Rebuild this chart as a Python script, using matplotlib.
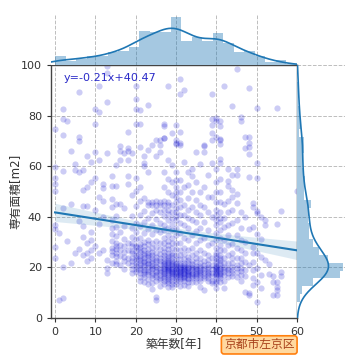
import matplotlib
matplotlib.use("Agg")
import matplotlib.pyplot as plt
import numpy as np

plt.rcParams['font.family'] = ['DejaVu Sans', 'Noto Sans CJK JP']

# floor area [m2] of each listing, one row per building age (0..60 years)
areas_by_age = [
  [74.7, 59.7, 55.3, 53.0, 50.2, 36.8, 35.0, 27.9, 23.6],
  [7.1, 33.5],
  [82.5, 78.6, 72.3, 58.0, 43.5, 20.0, 7.8],
  [77.8, 30.5],
  [66.0, 45.0, 21.9],
  [61.0, 58.5, 25.6],
  [89.2, 71.5, 70.0, 57.7, 38.5, 27.2],
  [58.5, 50.6, 44.2, 24.9, 32.0, 36.5],
  [64.0, 51.8, 44.2, 25.6, 29.5, 22.5],
  [61.7, 53.8, 34.0, 26.9, 31.0, 23.8],
  [82.7, 76.6, 65.6, 55.3, 42.7, 28.5],
  [91.5, 81.4, 62.5, 47.8, 37.0, 25.8],
  [53.0, 51.4, 46.2, 40.0, 26.9],
  [99.5, 96.7, 85.4, 65.3, 22.9, 19.6, 17.6],
  [56.0, 52.0, 43.9, 38.7, 33.2, 30.6, 27.8, 26.3, 24.8, 21.7, 35.4, 47.1],
  [52.0, 36.0, 45.0, 32.4, 29.7, 28.6, 27.3, 25.8, 24.4, 22.7, 21.3, 40.5, 60.5],
  [68.0, 66.0, 62.5, 45.0, 33.8, 28.7, 26.8, 24.6, 20.8],
  [65.3, 43.5, 36.4, 31.3, 28.4, 26.2, 24.3, 22.6, 19.4],
  [73.5, 67.3, 66.0, 62.5, 56.0, 53.0, 29.8, 26.7, 23.7, 21.8],
  [65.3, 48.5, 40.2, 35.4, 32.1, 29.7, 28.3, 26.4, 25.6, 23.8, 22.7, 20.9, 19.2, 17.6],
  [91.7, 86.5, 82.5, 76.7, 55.3, 50.1, 44.3, 37.6, 33.8, 31.2, 28.6, 27.9, 26.3, 24.7,
   24.1, 22.8, 21.6, 20.4, 19.3, 18.1],
  [82.2, 76.7, 67.6, 51.7, 46.2, 40.8, 36.3, 31.6, 29.4, 28.1, 26.7, 25.9, 24.6, 23.7,
   22.9, 21.8, 21.1, 19.8, 19.1, 17.7, 16.3, 14.8],
  [64.0, 61.4, 60.0, 47.6, 42.3, 37.8, 33.4, 30.2, 28.3, 26.8, 25.7, 24.9, 23.6, 22.7,
   22.1, 20.8, 20.3, 18.9, 18.2, 17.3, 16.1, 14.4],
  [84.2, 66.4, 57.8, 45.8, 44.6, 39.7, 35.2, 30.8, 29.1, 27.3, 25.8, 24.7, 24.2, 22.9,
   21.7, 21.2, 20.1, 18.8, 18.3, 17.4, 15.6, 13.3],
  [68.4, 45.9, 44.8, 41.3, 36.7, 33.2, 29.8, 27.7, 26.2, 24.8, 23.7, 22.6, 21.9, 20.7,
   19.9, 19.2, 17.8, 17.1, 15.8, 13.9, 11.5],
  [70.4, 64.0, 46.1, 44.6, 42.8, 39.2, 34.7, 30.6, 28.2, 25.7, 24.3, 22.8, 22.2, 20.6,
   20.1, 18.7, 18.1, 16.8, 16.2, 14.7, 8.4, 7.1],
  [70.4, 68.4, 65.7, 45.9, 44.8, 41.7, 37.6, 33.8, 29.7, 27.2, 25.3, 23.8, 22.4, 21.3,
   19.7, 19.1, 18.2, 16.9, 15.7, 14.9, 12.8],
  [76.7, 76.0, 71.0, 71.0, 57.6, 51.8, 46.1, 44.8, 42.7, 40.3, 36.8, 34.6, 31.7, 29.8,
   27.6, 26.2, 24.7, 23.9, 22.6, 21.8, 21.3, 20.4, 19.8, 19.4, 18.6, 17.8, 17.2, 16.6,
   15.7, 14.6, 13.4],
  [91.7, 62.3, 54.8, 49.6, 45.9, 44.7, 42.6, 41.2, 38.7, 35.6, 32.8, 30.6, 28.7, 27.4,
   25.8, 24.6, 23.7, 22.9, 22.3, 21.6, 20.8, 20.2, 19.7, 19.3, 18.8, 18.4, 17.6, 16.8,
   16.3, 15.6, 14.8, 13.7, 12.3],
  [73.0, 60.3, 53.7, 48.8, 44.6, 41.8, 39.6, 37.2, 34.8, 31.6, 29.7, 27.8, 25.7, 24.8,
   23.6, 22.7, 21.8, 21.2, 20.6, 19.8, 19.2, 18.7, 18.3, 17.7, 17.3, 16.6, 15.8, 14.7,
   13.6, 12.2],
  [76.3, 70.4, 69.0, 68.8, 57.8, 54.7, 51.6, 49.7, 47.8, 45.7, 43.6, 41.8, 40.5, 38.7,
   35.6, 32.7, 29.6, 27.3, 24.8, 23.3, 21.7, 21.2, 20.4, 19.7, 19.3, 18.8, 18.2, 17.6,
   17.1, 16.7, 15.7, 14.8, 13.3],
  [94.5, 88.5, 73.5, 69.0, 68.4, 54.6, 49.8, 46.7, 43.8, 40.7, 37.6, 33.7, 29.8, 26.8,
   24.7, 23.2, 21.7, 20.8, 20.3, 19.6, 19.2, 18.7, 18.3, 17.8, 17.3, 16.8, 16.2, 15.6,
   14.7, 12.8],
  [90.0, 61.7, 51.8, 44.7, 40.6, 36.8, 31.7, 27.8, 25.3, 23.2, 21.8, 21.1, 20.2, 19.8,
   19.2, 18.9, 18.4, 17.7, 17.2, 16.7, 16.3, 15.8, 14.8, 13.2],
  [57.8, 52.7, 47.6, 42.8, 39.7, 35.7, 30.8, 26.7, 24.3, 22.8, 21.7, 20.7, 19.8, 19.6,
   18.7, 18.2, 17.8, 17.3, 16.8, 15.8, 15.3, 14.2, 12.7],
  [58.7, 56.0, 49.7, 43.7, 38.8, 32.7, 27.8, 24.7, 22.7, 21.3, 20.3, 19.6, 18.8, 17.8,
   17.4, 16.7, 15.8, 14.3],
  [65.5, 53.8, 46.7, 41.7, 37.8, 34.2, 29.7, 25.8, 23.7, 22.2, 20.7, 19.9, 19.3, 18.6,
   17.8, 17.2, 16.6, 15.7, 14.2],
  [61.0, 49.7, 44.8, 40.7, 35.7, 30.8, 26.7, 23.8, 21.8, 20.7, 19.8, 18.9, 18.3, 17.7,
   16.8, 15.8, 14.7, 12.4],
  [68.4, 68.0, 65.7, 51.8, 43.7, 37.8, 31.7, 25.8, 22.7, 20.8, 19.7, 18.8, 17.8, 16.7,
   15.8, 11.0],
  [56.7, 47.8, 41.7, 34.8, 28.8, 24.7, 22.8, 21.3, 20.2, 19.3, 18.3, 17.7, 16.8, 15.7, 14.8],
  [88.4, 78.6, 76.3, 73.0, 70.4, 61.4, 47.7, 39.8, 29.7, 23.8, 20.8, 19.3, 17.8, 16.7,
   14.8, 13.7],
  [79.0, 78.0, 71.4, 58.8, 53.7, 49.8, 45.7, 42.8, 40.7, 38.7, 36.8, 33.7, 30.8, 27.7,
   25.8, 24.7, 23.8, 22.7, 21.8, 20.7, 20.2, 19.8, 19.2, 18.8, 18.2, 17.8, 17.3, 16.8,
   15.8, 14.8, 13.8, 11.7],
  [78.0, 76.0, 70.7, 70.4, 68.8, 62.7, 61.1, 54.8, 49.7, 45.8, 41.8, 39.7, 37.8, 34.7,
   31.8, 28.7, 26.8, 24.8, 23.7, 22.8, 21.7, 20.8, 19.8, 19.3, 18.7, 17.8, 17.2, 16.7,
   15.8, 14.3],
  [91.7, 45.0, 39.7, 35.8, 30.7, 26.8, 23.7, 21.8, 20.3, 19.4, 18.3, 16.8, 14.7, 11.9],
  [58.7, 54.0, 52.0, 46.4, 41.7, 36.8, 32.7, 28.8, 24.7, 21.8, 19.8, 18.8, 17.7, 16.3],
  [83.8, 56.5, 50.6, 47.7, 42.8, 37.7, 29.4, 25.8, 23.7, 21.7, 20.3, 18.8, 17.7, 16.4],
  [98.4, 58.7, 56.5, 49.0, 45.3, 38.7, 32.8, 27.8, 23.8, 20.8, 19.6, 18.2, 16.2],
  [79.5, 78.0, 41.8, 35.7, 30.8, 26.7, 23.7, 21.8, 19.8, 18.4, 16.8, 14.8],
  [71.7, 67.0, 40.0, 30.0, 25.8, 22.0, 19.0, 16.5, 10.3],
  [90.8, 71.5, 69.0, 67.6, 65.0, 55.6, 35.0, 21.0, 10.0, 9.1],
  [45.3, 43.7, 36.0, 28.0, 25.8, 22.0, 19.0, 16.0, 13.0],
  [83.0, 61.4, 55.2, 42.4, 41.4, 33.0, 25.8, 19.7, 14.2, 6.3],
  [39.8, 31.4, 24.0, 17.0, 12.0],
  [38.7, 36.8, 22.8],
  [21.5, 17.5],
  [16.6, 14.4, 9.1],
  [83.0, 37.2, 14.2, 12.4, 11.0, 9.0],
  [42.4, 18.2, 16.5],
  [],
  [],
  [],
  [50.0],
]

x_ticks = [0, 10, 20, 30, 40, 50, 60]
y_ticks = [0, 20, 40, 60, 80, 100]
x_label = "築年数[年]"
y_label = "専有面積[m2]"
area_name = "京都市左京区"


def kde(values, grid):
  v = np.asarray(values, dtype=float)
  bw = v.std(ddof=1) * len(v) ** (-1 / 5)
  z = (grid[:, None] - v[None, :]) / bw
  return np.exp(-0.5 * z ** 2).sum(axis=1) / (len(v) * bw * np.sqrt(2 * np.pi))


def main():
  ages = np.repeat(np.arange(len(areas_by_age)), [len(a) for a in areas_by_age]).astype(float)
  areas = np.array([v for row in areas_by_age for v in row])

  slope, intercept = np.polyfit(ages, areas, 1)

  fig = plt.figure(figsize=(3.6, 3.6), dpi=100)
  ax = fig.add_axes([0.1417, 0.1167, 0.6833, 0.7028])
  ax_top = fig.add_axes([0.1417, 0.8194, 0.6833, 0.1417], sharex=ax)
  ax_right = fig.add_axes([0.825, 0.1167, 0.1333, 0.7028], sharey=ax)

  grid_kw = dict(color="#bdbdbd", linestyle="--", linewidth=0.7)

  # main scatter + regression
  ax.scatter(ages, areas, s=20, color="mediumblue", alpha=0.2, linewidths=0, zorder=2)
  xg = np.linspace(ages.min(), ages.max(), 100)
  yg = intercept + slope * xg
  n = len(ages)
  resid = areas - (intercept + slope * ages)
  s = np.sqrt((resid ** 2).sum() / (n - 2))
  se = s * np.sqrt(1 / n + (xg - ages.mean()) ** 2 / ((ages - ages.mean()) ** 2).sum())
  ax.fill_between(xg, yg - 1.96 * se, yg + 1.96 * se, color="#1f77b4", alpha=0.15,
                  linewidth=0, zorder=3)
  ax.plot(xg, yg, color="#1f77b4", linewidth=1.5, zorder=4)
  ax.text(0.05, 0.95, "y=-0.21x+40.47", transform=ax.transAxes, color="#2a2ac8",
          fontsize=8, va="center", ha="left")

  ax.set_xlim(-1, 60)
  ax.set_ylim(0, 100)
  ax.set_xticks(x_ticks)
  ax.set_yticks(y_ticks)
  ax.grid(True, **grid_kw)
  ax.set_axisbelow(True)
  ax.tick_params(labelsize=8, colors="#333333", length=3, width=0.8)
  for sp in ax.spines.values():
    sp.set_color("#444444")
    sp.set_linewidth(1.0)
  ax.set_xlabel(x_label, fontsize=8.5, color="#333333", labelpad=1)
  ax.set_ylabel(y_label, fontsize=8.5, color="#333333")
  ax.yaxis.set_label_coords(-0.115, 0.5)

  # top marginal: building age
  bins_x = np.linspace(ages.min(), ages.max(), 24)
  h, _, _ = ax_top.hist(ages, bins=bins_x, density=True, color="#1f77b4", alpha=0.4)
  gx = np.linspace(-1, 60, 300)
  kx = kde(ages, gx)
  ax_top.plot(gx, kx, color="#1f77b4", linewidth=1.2)
  ax_top.set_ylim(0, max(h.max(), kx.max()) * 1.06)
  ax_top.grid(True, axis="x", **grid_kw)
  ax_top.set_axisbelow(True)

  # right marginal: floor area
  bins_y = np.linspace(areas.min(), areas.max(), 31)
  hy, _, _ = ax_right.hist(areas, bins=bins_y, density=True, orientation="horizontal",
                           color="#1f77b4", alpha=0.4)
  gy = np.linspace(0, 100, 300)
  ky = kde(areas, gy)
  ax_right.plot(ky, gy, color="#1f77b4", linewidth=1.2)
  ax_right.set_xlim(0, max(hy.max(), ky.max()) * 1.04)
  ax_right.grid(True, axis="y", **grid_kw)
  ax_right.set_axisbelow(True)

  for m in (ax_top, ax_right):
    for sp in m.spines.values():
      sp.set_visible(False)
    m.tick_params(left=False, bottom=False, labelleft=False, labelbottom=False)

  fig.text(0.818, 0.042, area_name, ha="right", va="center", fontsize=8.5, color="#a8401a",
           family=['Noto Sans CJK JP'],
           bbox=dict(boxstyle="round,pad=0.22", facecolor="#ffd9a0", edgecolor="#ff7f0e",
                     linewidth=1.2))

  fig.savefig("out.png", dpi=100)


if __name__ == "__main__":
  main()
